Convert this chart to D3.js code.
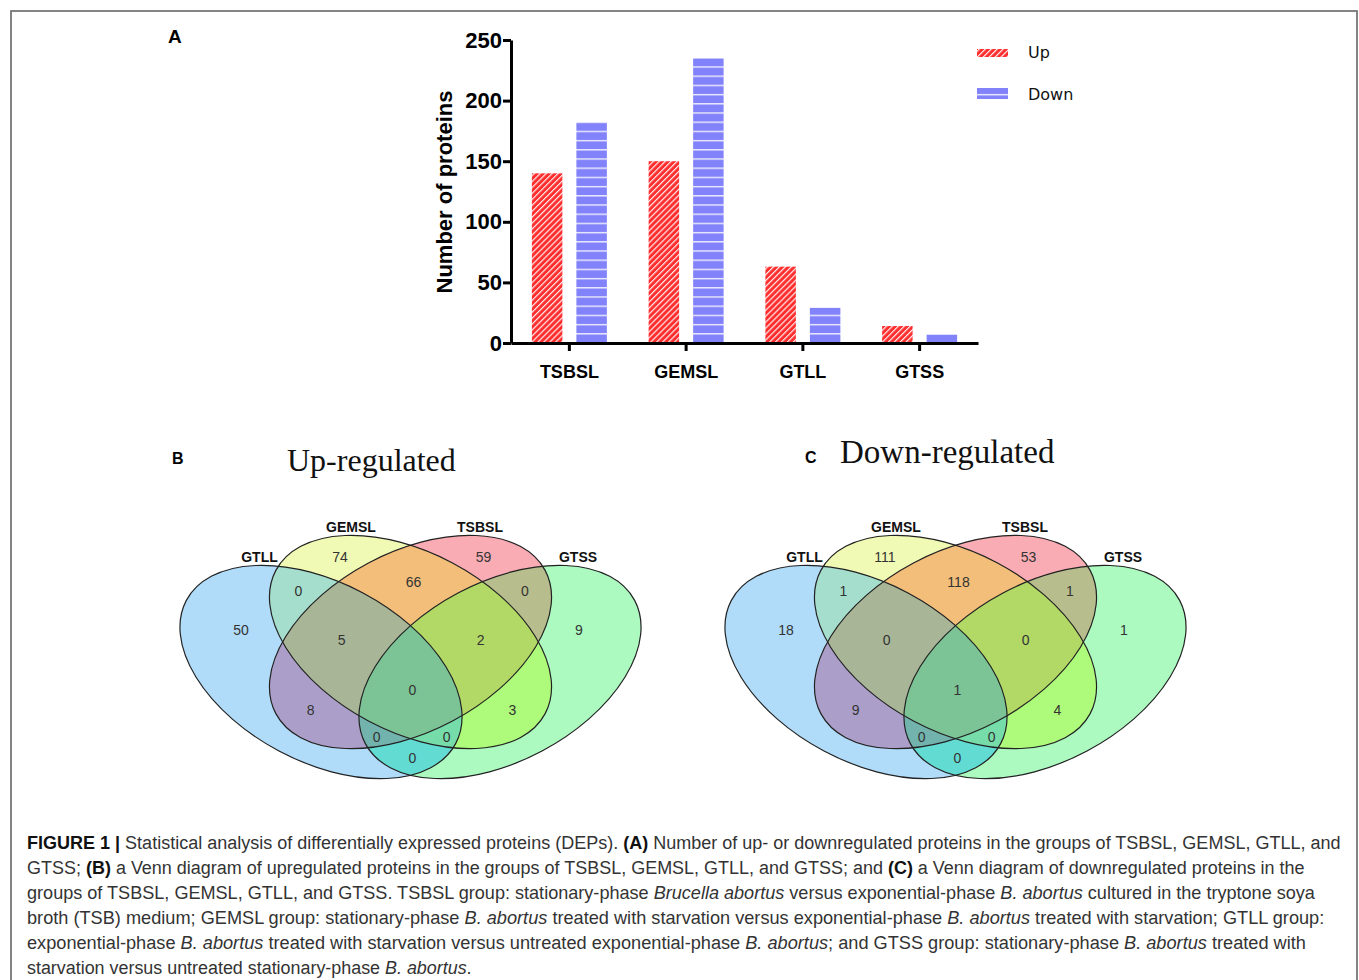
<!DOCTYPE html>
<html>
<head>
<meta charset="utf-8">
<script src="https://cdn.jsdelivr.net/npm/d3@7"></script>
<style>
  body { margin: 0; background: #fff; }
  svg { display: block; }
</style>
</head>
<body>
<svg id="figure"></svg>
<script>
// ---- data ----
const groups = ["TSBSL", "GEMSL", "GTLL", "GTSS"];
const directions = ["Up", "Down"];
const upCounts = [140, 150, 63, 14];
const downCounts = [182, 235, 29, 7];
const yTicks = [0, 50, 100, 150, 200, 250];

// Venn sets: A = GTLL, B = GEMSL, C = TSBSL, D = GTSS
const vennSets = ["GTLL", "GEMSL", "TSBSL", "GTSS"];
const vennRegions = ["A", "B", "C", "D", "AB", "BC", "CD", "ABC", "BCD", "ABCD", "AC", "BD", "ACD", "ABD", "AD"];
const upRegionCounts   = [50, 74, 59, 9, 0, 66, 0, 5, 2, 0, 8, 3, 0, 0, 0];
const downRegionCounts = [18, 111, 53, 1, 1, 118, 1, 0, 0, 1, 9, 4, 0, 0, 0];

const captionLines = [
  [["FIGURE 1 |", "b"], [" Statistical analysis of differentially expressed proteins (DEPs). ", ""], ["(A)", "b"], [" Number of up- or downregulated proteins in the groups of TSBSL, GEMSL, GTLL, and", ""]],
  [["GTSS; ", ""], ["(B)", "b"], [" a Venn diagram of upregulated proteins in the groups of TSBSL, GEMSL, GTLL, and GTSS; and ", ""], ["(C)", "b"], [" a Venn diagram of downregulated proteins in the", ""]],
  [["groups of TSBSL, GEMSL, GTLL, and GTSS. TSBSL group: stationary-phase ", ""], ["Brucella abortus", "i"], [" versus exponential-phase ", ""], ["B. abortus", "i"], [" cultured in the tryptone soya", ""]],
  [["broth (TSB) medium; GEMSL group: stationary-phase ", ""], ["B. abortus", "i"], [" treated with starvation versus exponential-phase ", ""], ["B. abortus", "i"], [" treated with starvation; GTLL group:", ""]],
  [["exponential-phase ", ""], ["B. abortus", "i"], [" treated with starvation versus untreated exponential-phase ", ""], ["B. abortus", "i"], ["; and GTSS group: stationary-phase ", ""], ["B. abortus", "i"], [" treated with", ""]],
  [["starvation versus untreated stationary-phase ", ""], ["B. abortus", "i"], [".", ""]]
];

// ---- layout ----
const width = 1359;
const height = 980;

const svg = d3.select("#figure")
    .attr("width", width)
    .attr("height", height)
    .attr("viewBox", [0, 0, width, height])
    .style("font-family", "'Liberation Sans', Arial, sans-serif");

// frame
svg.append("rect")
    .attr("x", 11).attr("y", 11)
    .attr("width", 1346).attr("height", 1000)
    .attr("fill", "none")
    .attr("stroke", "#666")
    .attr("stroke-width", 1.6);

// patterns
const defs = svg.append("defs");
const y = d3.scaleLinear().domain([0, 250]).range([343, 40]);

const upPat = defs.append("pattern")
    .attr("id", "hatchUp")
    .attr("patternUnits", "userSpaceOnUse")
    .attr("width", 4.2).attr("height", 4.2)
    .attr("patternTransform", "rotate(-45)");
upPat.append("rect").attr("width", 4.2).attr("height", 4.2).attr("fill", "#ff2e2e");
upPat.append("rect").attr("width", 4.2).attr("height", 1.2).attr("fill", "#fff").attr("opacity", 0.9);

const downPat = defs.append("pattern")
    .attr("id", "hatchDown")
    .attr("patternUnits", "userSpaceOnUse")
    .attr("x", 0).attr("y", y(0) - 0.7)
    .attr("width", 40).attr("height", 9.2);
downPat.append("rect").attr("width", 40).attr("height", 9.2).attr("fill", "#8282fa");
downPat.append("rect").attr("width", 40).attr("height", 1.4).attr("fill", "#fff").attr("opacity", 0.85);

const fills = { Up: "url(#hatchUp)", Down: "url(#hatchDown)" };

// ---- panel A: bar chart ----
const x = d3.scaleBand().domain(groups).range([511, 978]);
const xSub = d3.scaleBand().domain(directions).range([-37.5, 37.5]).paddingInner(0.315);

const barData = groups.flatMap((g, i) => [
  { group: g, dir: "Up", value: upCounts[i] },
  { group: g, dir: "Down", value: downCounts[i] }
]);

svg.append("g")
  .selectAll("rect")
  .data(barData)
  .join("rect")
    .attr("x", d => x(d.group) + x.bandwidth() / 2 + xSub(d.dir))
    .attr("width", xSub.bandwidth())
    .attr("y", d => y(d.value))
    .attr("height", d => y(0) - y(d.value))
    .attr("fill", d => fills[d.dir]);

const axisFont = g => g.attr("font-family", "'Liberation Sans', Arial, sans-serif").attr("font-weight", "bold");

svg.append("g")
    .attr("transform", `translate(0,${y(0)})`)
    .call(d3.axisBottom(x).tickSize(8).tickSizeOuter(0).tickPadding(14))
    .call(axisFont)
    .call(g => g.attr("font-size", 18))
    .call(g => g.selectAll("line, path").attr("stroke", "#000").attr("stroke-width", 3));

svg.append("g")
    .attr("transform", `translate(${x.range()[0]},0)`)
    .call(d3.axisLeft(y).tickValues(yTicks).tickSize(8).tickSizeOuter(0).tickPadding(1))
    .call(axisFont)
    .call(g => g.attr("font-size", 22))
    .call(g => g.selectAll("line, path").attr("stroke", "#000").attr("stroke-width", 3));

svg.append("text")
    .attr("transform", "translate(452,192) rotate(-90)")
    .attr("text-anchor", "middle")
    .attr("font-size", 22)
    .attr("font-weight", "bold")
    .text("Number of proteins");

// legend
const legend = svg.append("g");
const legendRows = [
  { dir: "Up", y: 49, h: 8, ty: 58 },
  { dir: "Down", y: 88, h: 11, ty: 100 }
];
legend.selectAll("rect")
  .data(legendRows)
  .join("rect")
    .attr("x", 977).attr("y", d => d.y)
    .attr("width", 31).attr("height", d => d.h)
    .attr("fill", d => fills[d.dir]);
legend.selectAll("text")
  .data(legendRows)
  .join("text")
    .attr("x", 1028).attr("y", d => d.ty)
    .attr("font-family", "'DejaVu Sans', sans-serif")
    .attr("font-size", 16)
    .attr("fill", "#111")
    .text(d => d.dir);

// panel letters and Venn titles
svg.append("text").attr("x", 168).attr("y", 43).attr("font-size", 19).attr("font-weight", "bold").text("A");
svg.append("text").attr("x", 172).attr("y", 464).attr("font-size", 16).attr("font-weight", "bold").text("B");
svg.append("text").attr("x", 805).attr("y", 463).attr("font-size", 16).attr("font-weight", "bold").text("C");

svg.append("text").attr("x", 287).attr("y", 471)
    .attr("font-family", "'Liberation Serif', 'Times New Roman', serif")
    .attr("font-size", 32).attr("fill", "#111").text("Up-regulated");
svg.append("text").attr("x", 840).attr("y", 463)
    .attr("font-family", "'Liberation Serif', 'Times New Roman', serif")
    .attr("font-size", 33).attr("fill", "#111").text("Down-regulated");

// ---- panels B and C: Venn diagrams ----
// geometry in venn units (1 unit = 100 px), origin at the centre of B and C ellipses
const vennShape = { rx: 1.525, ry: 0.895 };
const vennEllipses = [
  { key: "A", cx: -0.895, cy: 0.30, rot: 28 },  // GTLL
  { key: "B", cx: 0, cy: 0, rot: 28 },          // GEMSL
  { key: "C", cx: 0, cy: 0, rot: -28 },         // TSBSL
  { key: "D", cx: 0.895, cy: 0.30, rot: -28 }   // GTSS
];
const regionColors = {
  A: "#b0dcfa", B: "#f0fab4", C: "#faacb4", D: "#acfac0",
  AB: "#a5decd", AC: "#ab9fc9", AD: "#62dbd3", BC: "#f2be7a", BD: "#aefa7a", CD: "#b8bd8d",
  ABC: "#a8b597", ABD: "#76dcaa", ACD: "#72b3ad", BCD: "#b2d866", ABCD: "#7cc496"
};
const regionPos = {
  A: [-1.695, -0.12], B: [-0.705, -0.853], C: [0.73, -0.853], D: [1.685, -0.12],
  AB: [-1.122, -0.513], BC: [0.03, -0.603], CD: [1.145, -0.513],
  ABC: [-0.688, -0.02], BCD: [0.702, -0.02], ABCD: [0.018, 0.48],
  AC: [-0.998, 0.68], BD: [1.018, 0.68], ACD: [-0.338, 0.953], ABD: [0.362, 0.953], AD: [0.018, 1.163]
};
const setLabelPos = [[-1.51, -0.80], [-0.595, -1.10], [0.695, -1.10], [1.675, -0.80]];

const vx = d3.scaleLinear().domain([0, 1]).range([0, 100]);
const vy = d3.scaleLinear().domain([0, 1]).range([0, 100]);
const ell = sel => sel
    .attr("cx", 0).attr("cy", 0)
    .attr("rx", vx(vennShape.rx))
    .attr("ry", vy(vennShape.ry))
    .attr("transform", d => `translate(${vx(d.cx)},${vy(d.cy)}) rotate(${d.rot})`);

defs.selectAll("clipPath.venn")
  .data(vennEllipses)
  .join("clipPath")
    .attr("class", "venn")
    .attr("id", d => "vclip" + d.key)
  .append("ellipse")
    .call(ell);

const byKey = Object.fromEntries(vennEllipses.map(d => [d.key, d]));
const paintOrder = vennRegions.slice().sort((a, b) => a.length - b.length);

function drawVenn(centerX, centerY, counts) {
  const g = svg.append("g").attr("transform", `translate(${centerX},${centerY})`);

  // each region painted as the intersection of its sets; higher orders on top
  const regions = g.append("g");
  paintOrder.forEach(r => {
    const keys = r.split("");
    let parent = regions;
    keys.slice(0, -1).forEach(k => {
      parent = parent.append("g").attr("clip-path", `url(#vclip${k})`);
    });
    parent.append("ellipse")
      .datum(byKey[keys[keys.length - 1]])
      .call(ell)
      .attr("fill", regionColors[r]);
  });

  g.append("g")
    .selectAll("ellipse")
    .data(vennEllipses)
    .join("ellipse")
      .call(ell)
      .attr("fill", "none")
      .attr("stroke", "#222")
      .attr("stroke-width", 1.2);

  g.append("g")
    .selectAll("text")
    .data(vennRegions)
    .join("text")
      .attr("x", d => vx(regionPos[d][0]))
      .attr("y", d => vy(regionPos[d][1]))
      .attr("dy", "0.36em")
      .attr("text-anchor", "middle")
      .attr("font-size", 14)
      .attr("fill", "#333")
      .text((d, i) => counts[i]);

  g.append("g")
    .selectAll("text")
    .data(vennSets)
    .join("text")
      .attr("x", (d, i) => vx(setLabelPos[i][0]))
      .attr("y", (d, i) => vy(setLabelPos[i][1]))
      .attr("text-anchor", "middle")
      .attr("font-size", 14)
      .attr("font-weight", "bold")
      .attr("fill", "#111")
      .text(d => d);
}

drawVenn(410.5, 642, upRegionCounts);
drawVenn(955.5, 642, downRegionCounts);

// ---- caption ----
const captionEnds = [1341, 1305, 1317, 1325, 1307, 472];
captionLines.forEach((segs, i) => {
  const t = svg.append("text")
      .attr("x", 0).attr("y", 0)
      .attr("font-size", 18)
      .attr("fill", "#333")
      .style("white-space", "pre");
  segs.forEach(([txt, st]) => {
    t.append("tspan")
      .attr("font-weight", st === "b" ? "bold" : null)
      .attr("font-style", st === "i" ? "italic" : null)
      .attr("fill", st === "b" ? "#111" : null)
      .text(txt);
  });
  const w = t.node().getBBox().width;
  const sx = (captionEnds[i] - 27) / w;
  t.attr("transform", `translate(27,${849 + i * 25}) scale(${sx},1)`);
});
</script>
</body>
</html>
